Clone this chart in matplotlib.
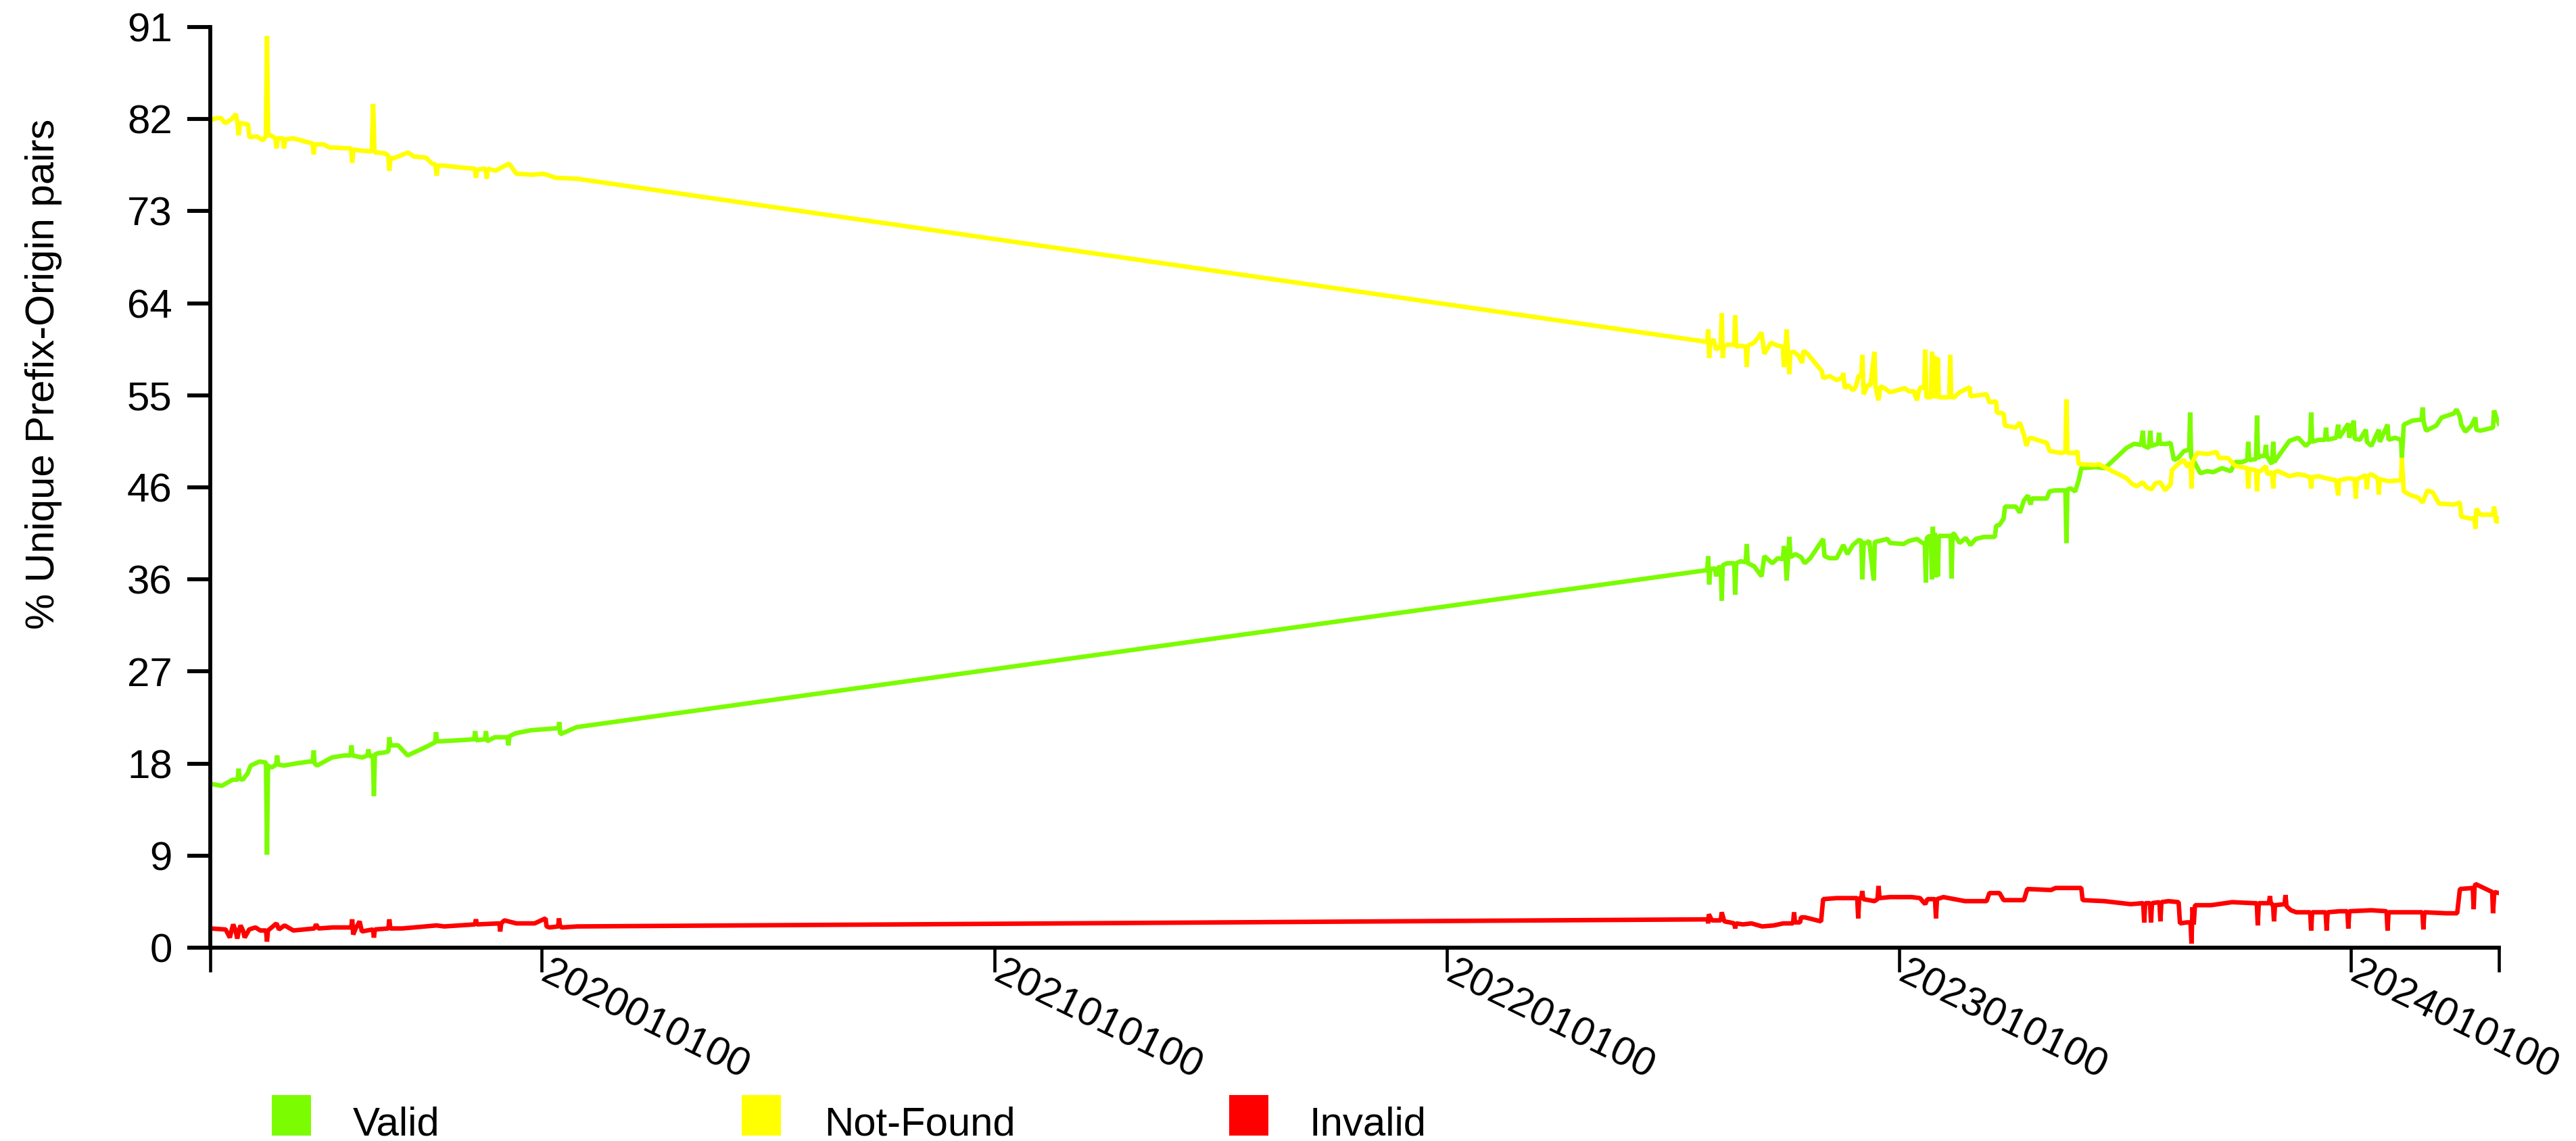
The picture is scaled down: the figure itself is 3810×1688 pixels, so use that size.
import numpy as np
import matplotlib.pyplot as plt
import matplotlib.dates as mdates
from matplotlib.patches import Rectangle
from matplotlib.transforms import ScaledTranslation

plt.rcParams['font.family'] = ['Liberation Sans', 'DejaVu Sans']

# x values are days since 2020-01-01, y values are % of unique prefix-origin pairs
EPOCH = np.datetime64('2020-01-01T00:00')
Y_MAX = 91

valid = [
    (-267.4, 16.2), (-258.1, 16.0), (-249.4, 16.6), (-245.3, 16.6), (-244.5, 17.7), (-243.7, 16.7),
    (-241.2, 16.6), (-237.4, 17.2), (-234.7, 18.0), (-227.6, 18.4), (-222.4, 18.3), (-221.6, 9.2),
    (-220.8, 18.0), (-217.8, 17.8), (-214.2, 18.1), (-213.4, 19.0), (-212.6, 18.1), (-207.9, 18.0),
    (-198.7, 18.2), (-187.2, 18.4), (-184.7, 18.4), (-183.9, 19.5), (-183.1, 18.2), (-181.2, 18.0),
    (-169.2, 18.8), (-159.4, 19.0), (-154.2, 19.0), (-153.4, 20.0), (-152.6, 19.0), (-144.6, 18.8),
    (-140.5, 19.0), (-139.7, 19.6), (-138.9, 18.9), (-136.1, 19.0), (-135.3, 15.0), (-134.5, 19.1),
    (-132.6, 19.2), (-126.6, 19.3), (-123.6, 19.4), (-122.8, 20.8), (-122.0, 20.0), (-115.7, 20.0),
    (-108.1, 19.0), (-93.9, 19.8), (-85.9, 20.3), (-85.1, 21.3), (-84.3, 20.4), (-81.3, 20.4),
    (-66.6, 20.5), (-54.3, 20.6), (-53.5, 21.4), (-52.7, 20.5), (-45.6, 20.6), (-44.8, 21.4),
    (-44.0, 20.4), (-37.7, 20.8), (-27.5, 20.8), (-26.7, 20.0), (-25.9, 20.9), (-20.7, 21.2),
    (-8.2, 21.5), (2.7, 21.6), (13.6, 21.7), (14.4, 22.3), (15.2, 21.1), (28.4, 21.8),
    (939.8, 37.3), (941.2, 37.3), (942.0, 38.7), (942.8, 35.9), (943.6, 37.4), (947.4, 37.5),
    (948.5, 36.7), (950.0, 37.6), (952.1, 37.6), (952.9, 34.3), (953.7, 37.8), (957.3, 38.0),
    (963.0, 38.0), (963.8, 34.9), (964.6, 38.0), (968.2, 38.2), (972.3, 38.1), (973.1, 39.9),
    (973.9, 38.0), (979.1, 37.7), (985.1, 36.7), (987.3, 38.7), (993.8, 38.0), (998.2, 38.5),
    (1002.3, 38.4), (1003.1, 39.7), (1004.5, 38.3), (1005.3, 36.3), (1006.5, 38.4), (1007.5, 40.6),
    (1008.5, 38.6), (1012.4, 38.9), (1017.0, 38.6), (1020.0, 38.0), (1024.4, 38.5), (1034.8, 40.4),
    (1035.9, 38.7), (1040.0, 38.5), (1045.7, 38.5), (1051.1, 39.8), (1054.4, 38.9), (1058.8, 39.8),
    (1063.7, 40.3), (1065.6, 40.2), (1066.4, 36.4), (1067.5, 40.0), (1069.7, 40.0), (1072.0, 40.2),
    (1075.7, 36.3), (1076.5, 40.1), (1080.1, 40.2), (1086.6, 40.4), (1088.8, 40.0), (1099.7, 39.9),
    (1104.0, 40.2), (1110.6, 40.4), (1115.0, 40.0), (1116.9, 40.0), (1117.7, 36.1), (1118.5, 40.5),
    (1120.5, 40.7), (1121.8, 40.6), (1122.6, 36.4), (1123.4, 41.6), (1124.2, 36.8), (1125.0, 41.0),
    (1125.8, 36.6), (1126.6, 40.8), (1127.4, 36.7), (1128.2, 40.7), (1131.9, 40.7), (1137.7, 40.7),
    (1138.5, 36.5), (1139.3, 40.9), (1140.6, 40.9), (1145.0, 40.0), (1150.0, 40.5), (1153.7, 39.8),
    (1158.0, 40.4), (1164.7, 40.6), (1173.4, 40.6), (1174.5, 41.7), (1177.2, 41.8), (1180.5, 42.4),
    (1181.6, 43.6), (1190.3, 43.6), (1193.6, 43.0), (1196.9, 44.2), (1200.1, 44.7), (1202.3, 43.8),
    (1203.4, 44.4), (1215.4, 44.4), (1217.6, 45.1), (1222.0, 45.2), (1228.0, 45.2), (1230.4, 45.2),
    (1231.2, 40.0), (1232.0, 45.3), (1234.5, 45.4), (1238.3, 45.1), (1241.1, 46.2), (1243.2, 47.4),
    (1254.7, 47.5), (1262.3, 47.4), (1279.8, 49.4), (1285.8, 49.8), (1291.5, 49.7), (1292.9, 51.1),
    (1293.7, 49.6), (1297.8, 49.4), (1298.9, 51.1), (1299.7, 49.6), (1305.2, 49.8), (1306.0, 50.9),
    (1306.8, 49.8), (1312.0, 49.8), (1315.3, 49.9), (1318.0, 48.2), (1321.3, 48.4), (1326.2, 49.1),
    (1330.3, 49.2), (1331.1, 52.9), (1331.9, 48.5), (1335.5, 47.8), (1339.3, 46.9), (1345.0, 47.1),
    (1349.7, 47.0), (1356.8, 47.4), (1363.9, 47.1), (1367.7, 48.0), (1373.0, 48.0), (1377.2, 48.2),
    (1378.0, 50.0), (1378.8, 48.2), (1384.3, 48.3), (1385.1, 52.6), (1385.9, 48.4), (1387.9, 48.6),
    (1391.4, 48.6), (1392.2, 49.7), (1393.0, 48.6), (1397.1, 47.8), (1398.2, 50.0), (1399.0, 48.0),
    (1404.2, 48.9), (1411.3, 50.1), (1418.4, 50.4), (1424.4, 49.6), (1428.0, 50.0), (1428.8, 52.9),
    (1429.6, 50.0), (1434.8, 50.2), (1440.0, 50.2), (1440.8, 51.4), (1441.6, 50.2), (1449.0, 50.4),
    (1450.6, 51.7), (1451.4, 50.4), (1458.8, 51.8), (1459.6, 50.4), (1463.2, 52.1), (1464.0, 50.3),
    (1468.1, 50.2), (1473.0, 51.2), (1473.8, 50.0), (1477.4, 49.6), (1483.4, 51.2), (1484.2, 50.0),
    (1490.5, 51.7), (1491.3, 50.2), (1496.5, 50.4), (1501.4, 50.2), (1502.0, 48.4), (1503.6, 51.7),
    (1510.7, 52.1), (1518.0, 52.2), (1518.8, 53.4), (1519.6, 52.0), (1521.6, 51.1), (1529.8, 51.6),
    (1534.1, 52.4), (1544.0, 52.8), (1546.2, 53.2), (1548.9, 52.5), (1550.0, 51.7), (1553.3, 51.0),
    (1558.2, 51.6), (1561.4, 52.4), (1562.2, 51.2), (1565.3, 51.1), (1575.6, 51.4), (1576.5, 53.1),
    (1578.3, 52.4), (1580.4, 51.8),
]

not_found = [
    (-267.4, 81.8), (-262.0, 82.0), (-258.7, 82.0), (-255.4, 81.5), (-250.0, 81.9), (-246.7, 82.4),
    (-245.5, 81.6), (-244.5, 80.3), (-243.5, 81.5), (-238.0, 81.4), (-236.9, 81.4), (-235.8, 80.1),
    (-230.0, 80.2), (-224.9, 79.8), (-222.5, 80.2), (-221.6, 90.1), (-220.7, 80.3), (-218.8, 80.3),
    (-214.8, 80.0), (-213.9, 79.0), (-213.0, 80.0), (-208.8, 80.0), (-207.9, 79.0), (-207.0, 79.9),
    (-200.3, 80.0), (-188.3, 79.6), (-184.8, 79.5), (-183.9, 78.4), (-183.0, 79.4), (-175.7, 79.4),
    (-171.4, 79.1), (-153.7, 79.0), (-152.8, 77.6), (-151.9, 78.9), (-146.8, 78.8), (-137.0, 78.7),
    (-135.9, 83.4), (-134.8, 78.6), (-132.1, 78.6), (-126.1, 78.5), (-123.7, 78.3), (-122.8, 76.8),
    (-121.9, 78.1), (-120.1, 78.0), (-107.5, 78.6), (-103.1, 78.2), (-93.3, 78.1), (-88.4, 77.5),
    (-85.5, 77.4), (-84.6, 76.3), (-83.7, 77.3), (-78.6, 77.3), (-63.9, 77.1), (-53.8, 77.0),
    (-52.9, 76.1), (-52.0, 76.9), (-45.1, 77.0), (-44.2, 76.0), (-43.3, 77.0), (-37.1, 76.8),
    (-26.2, 77.5), (-20.2, 76.5), (-7.6, 76.4), (1.6, 76.5), (11.5, 76.1), (28.9, 76.0),
    (939.8, 59.9), (941.2, 59.9), (942.0, 61.1), (942.8, 58.3), (943.6, 59.8), (946.4, 60.1),
    (948.5, 59.1), (952.1, 59.5), (952.9, 62.7), (953.7, 58.3), (954.5, 59.4), (957.3, 59.6),
    (963.0, 59.6), (963.8, 62.5), (964.6, 59.4), (968.2, 59.5), (972.3, 59.4), (973.1, 57.4),
    (973.9, 59.5), (979.1, 59.8), (985.1, 60.8), (987.3, 58.7), (992.7, 59.8), (998.2, 59.5),
    (1002.3, 59.4), (1003.1, 57.4), (1004.5, 59.5), (1005.3, 61.1), (1006.3, 59.2), (1007.5, 56.7),
    (1008.3, 58.8), (1011.3, 58.9), (1015.0, 58.5), (1017.8, 57.8), (1019.0, 59.0), (1022.2, 58.7),
    (1033.7, 57.0), (1034.8, 56.3), (1040.0, 56.5), (1045.7, 56.1), (1050.0, 56.3), (1051.1, 56.8),
    (1052.2, 55.3), (1055.0, 55.6), (1058.8, 55.1), (1061.0, 55.4), (1063.7, 56.6), (1065.6, 56.5),
    (1066.4, 58.6), (1067.5, 54.7), (1070.8, 55.6), (1073.0, 55.6), (1076.2, 58.9), (1077.0, 55.5),
    (1079.5, 54.1), (1081.0, 55.5), (1084.4, 55.3), (1088.8, 54.9), (1100.8, 55.3), (1104.0, 55.0),
    (1108.0, 55.0), (1110.6, 54.1), (1112.0, 55.0), (1113.4, 55.4), (1116.4, 55.3), (1117.2, 59.1),
    (1118.2, 54.4), (1119.4, 54.4), (1121.8, 54.4), (1122.6, 58.9), (1123.4, 54.3), (1124.2, 58.5),
    (1125.0, 54.4), (1125.8, 58.4), (1126.6, 54.3), (1127.4, 58.3), (1128.2, 54.4), (1131.9, 54.4),
    (1136.6, 54.4), (1137.4, 58.6), (1138.2, 54.4), (1140.6, 54.4), (1145.0, 54.9), (1153.2, 55.4),
    (1153.7, 54.5), (1160.0, 54.6), (1166.8, 54.7), (1169.0, 53.9), (1174.5, 54.0), (1175.0, 52.9),
    (1180.5, 52.8), (1181.6, 51.6), (1186.0, 51.5), (1190.3, 51.4), (1193.6, 51.9), (1196.9, 50.7),
    (1199.0, 49.6), (1200.5, 50.2), (1202.3, 50.4), (1210.0, 50.1), (1215.4, 49.9), (1217.6, 49.1),
    (1222.0, 49.0), (1226.9, 48.9), (1230.4, 49.0), (1231.2, 54.2), (1232.0, 48.9), (1238.3, 48.9),
    (1240.0, 49.1), (1241.1, 47.8), (1254.7, 47.7), (1257.4, 47.8), (1263.4, 47.4), (1279.8, 46.4),
    (1283.6, 45.9), (1288.0, 45.6), (1292.9, 46.0), (1296.0, 45.5), (1300.0, 45.3), (1303.0, 45.9),
    (1307.1, 46.0), (1310.9, 45.2), (1315.3, 45.8), (1316.4, 47.2), (1321.3, 47.8), (1326.2, 48.2),
    (1329.0, 47.5), (1331.5, 48.0), (1332.2, 45.4), (1333.0, 48.0), (1336.6, 48.9), (1345.3, 48.8),
    (1352.4, 49.0), (1354.6, 48.4), (1361.7, 48.4), (1367.7, 47.6), (1373.0, 47.5), (1377.2, 47.4),
    (1378.0, 45.4), (1378.8, 47.3), (1384.3, 47.2), (1385.1, 45.1), (1385.9, 47.1), (1387.9, 47.1),
    (1392.2, 47.6), (1393.5, 46.8), (1397.1, 47.0), (1398.2, 45.4), (1399.0, 47.0), (1402.1, 47.1),
    (1411.3, 46.6), (1418.0, 46.8), (1423.4, 46.7), (1428.0, 46.5), (1428.8, 45.4), (1429.6, 46.5),
    (1434.8, 46.6), (1440.8, 46.4), (1449.0, 46.2), (1450.6, 44.7), (1451.4, 46.2), (1458.8, 46.4),
    (1464.0, 46.3), (1464.8, 44.4), (1465.6, 46.3), (1473.0, 46.7), (1473.8, 45.3), (1474.6, 46.6),
    (1477.4, 46.8), (1482.6, 46.4), (1483.4, 44.8), (1484.2, 46.3), (1491.6, 46.1), (1500.3, 46.2),
    (1501.4, 46.2), (1502.0, 48.4), (1503.6, 45.1), (1509.6, 44.7), (1515.0, 44.5), (1518.8, 44.0),
    (1522.7, 45.2), (1527.0, 45.0), (1532.0, 43.9), (1544.0, 43.8), (1548.9, 44.0), (1550.0, 42.6),
    (1558.2, 42.4), (1560.6, 42.5), (1561.4, 41.4), (1562.2, 43.4), (1565.3, 42.8), (1575.6, 42.8),
    (1576.5, 43.6), (1578.3, 42.0), (1580.4, 42.4),
]

invalid = [
    (-267.4, 1.9), (-255.0, 1.8), (-251.6, 1.0), (-250.0, 1.8), (-248.9, 2.3), (-247.0, 1.7),
    (-245.6, 0.9), (-244.0, 1.8), (-242.9, 2.2), (-241.0, 1.7), (-239.6, 1.0), (-236.0, 1.8),
    (-230.9, 2.0), (-227.0, 1.7), (-222.4, 1.7), (-221.6, 0.6), (-220.8, 1.7), (-213.9, 2.4),
    (-212.0, 1.8), (-207.4, 2.2), (-200.3, 1.7), (-183.4, 1.9), (-182.0, 2.3), (-180.0, 1.9),
    (-168.6, 2.0), (-153.6, 2.0), (-152.8, 2.8), (-152.0, 1.3), (-150.0, 1.9), (-146.8, 2.6),
    (-145.0, 1.6), (-140.8, 1.7), (-136.0, 1.8), (-135.3, 1.0), (-134.5, 1.8), (-123.6, 1.9),
    (-122.8, 2.8), (-122.0, 1.9), (-112.4, 1.9), (-103.1, 2.0), (-84.6, 2.2), (-78.6, 2.1),
    (-53.7, 2.3), (-52.9, 2.8), (-52.1, 2.3), (-34.0, 2.4), (-33.3, 1.6), (-32.5, 2.4),
    (-30.0, 2.7), (-20.2, 2.4), (-5.5, 2.4), (3.3, 2.9), (4.1, 2.1), (6.5, 2.0),
    (13.4, 2.1), (14.2, 2.9), (15.0, 2.1), (16.4, 2.0), (28.9, 2.1),
    (939.8, 2.8), (941.5, 2.8), (942.0, 2.4), (942.5, 3.3), (945.0, 2.7), (952.1, 2.7),
    (952.9, 3.5), (955.0, 2.6), (959.4, 2.5), (963.0, 2.4), (963.8, 1.9), (964.6, 2.4),
    (970.0, 2.3), (976.9, 2.4), (985.6, 2.1), (995.0, 2.2), (1002.6, 2.4), (1010.5, 2.4),
    (1011.3, 3.5), (1012.1, 2.5), (1016.2, 2.5), (1016.9, 3.0), (1020.0, 3.0), (1033.1, 2.6),
    (1034.8, 4.8), (1045.7, 4.9), (1062.3, 4.9), (1063.1, 2.9), (1063.9, 4.9), (1065.6, 4.9),
    (1066.4, 5.6), (1067.2, 4.8), (1076.2, 4.6), (1078.7, 4.8), (1079.5, 6.1), (1080.3, 4.9),
    (1088.8, 5.0), (1106.3, 5.0), (1113.0, 4.9), (1117.2, 4.3), (1119.0, 4.8), (1125.1, 4.8),
    (1125.9, 2.9), (1126.7, 4.8), (1131.9, 5.0), (1149.4, 4.6), (1166.8, 4.6), (1169.0, 5.4),
    (1177.2, 5.4), (1180.5, 4.7), (1196.9, 4.7), (1199.6, 5.8), (1218.7, 5.7), (1222.5, 5.9),
    (1243.2, 5.9), (1244.3, 4.7), (1261.8, 4.6), (1283.1, 4.3), (1293.2, 4.4), (1294.0, 2.5),
    (1294.8, 4.4), (1298.7, 4.4), (1299.5, 2.5), (1300.3, 4.4), (1306.3, 4.5), (1307.1, 2.6),
    (1307.9, 4.5), (1313.6, 4.6), (1321.8, 4.5), (1322.9, 2.4), (1328.4, 2.5), (1331.4, 2.5),
    (1332.2, 0.4), (1333.0, 4.0), (1334.0, 2.3), (1335.0, 4.2), (1337.1, 4.2), (1348.0, 4.2),
    (1365.0, 4.5), (1382.4, 4.4), (1384.9, 4.4), (1385.7, 2.2), (1386.5, 4.4), (1394.7, 4.4),
    (1395.5, 5.1), (1396.3, 4.3), (1398.0, 4.3), (1398.8, 2.6), (1399.6, 4.2), (1407.3, 4.3),
    (1408.1, 5.2), (1408.9, 4.1), (1412.4, 3.7), (1416.8, 3.5), (1428.0, 3.5), (1428.8, 1.7),
    (1429.6, 3.5), (1440.5, 3.5), (1441.3, 1.7), (1442.1, 3.5), (1451.7, 3.6), (1458.0, 3.6),
    (1458.8, 1.9), (1459.6, 3.6), (1477.4, 3.7), (1489.7, 3.6), (1490.5, 1.7), (1491.3, 3.5),
    (1499.2, 3.5), (1518.6, 3.5), (1519.4, 1.8), (1520.2, 3.5), (1537.9, 3.4), (1546.7, 3.4),
    (1548.9, 5.8), (1559.3, 5.9), (1560.0, 3.8), (1560.7, 5.9), (1561.4, 6.3), (1575.0, 5.5),
    (1575.6, 3.4), (1576.7, 5.5), (1580.4, 5.4),
]

series = [('Valid', valid, '#7CFC00'),
          ('Not-Found', not_found, '#FFFF00'),
          ('Invalid', invalid, '#FF0000')]


def to_dates(days):
    minutes = np.round(np.asarray(days) * 1440).astype('timedelta64[m]')
    return EPOCH + minutes


W, H = 3810, 1688
fig = plt.figure(figsize=(W / 300, H / 300), dpi=300)
ax = fig.add_axes([311 / W, 286 / H, (3696 - 311) / W, (1402 - 40) / H])

all_days = []
for name, pts, color in series:
    d, v = zip(*pts)
    all_days += d
    ax.plot(to_dates(d), v, color=color, lw=1.6, solid_joinstyle='bevel')

x0, x1 = to_dates([min(all_days), max(all_days)])
ax.set_xlim(x0, x1)
ax.set_ylim(0, Y_MAX)

# y ticks: 10 equal steps, labels rounded
yt = np.linspace(0, Y_MAX, 11)
ax.set_yticks(yt, [str(round(v)) for v in yt])

ax.xaxis.set_major_locator(mdates.YearLocator())
ax.xaxis.set_major_formatter(mdates.DateFormatter('%Y%m%d%H'))
ax.set_xticks([x0, x1], minor=True)

for s in ['top', 'right']:
    ax.spines[s].set_visible(False)
for s in ['left', 'bottom']:
    ax.spines[s].set_linewidth(1.4)

ax.tick_params(axis='y', length=8.2, width=1.4, pad=5.3, labelsize=14.4)
ax.tick_params(axis='x', which='both', length=8.6, width=1.1, pad=-6.2, labelsize=14.4)

off = ScaledTranslation(15 / 300, 0, fig.dpi_scale_trans)
for lab in ax.get_xticklabels():
    lab.set_rotation(-26)
    lab.set_ha('left')
    lab.set_va('top')
    lab.set_rotation_mode('anchor')
    lab.set_transform(lab.get_transform() + off)

fig.text(65 / W, 1 - 553 / H, '% Unique Prefix-Origin pairs', rotation=90,
         ha='center', va='center', fontsize=14.4)

# legend row along the bottom
for (name, pts, color), sx, tx in zip(series, [402, 1097, 1818], [522, 1219, 1937]):
    fig.add_artist(Rectangle((sx / W, 8 / H), 58 / W, 60 / H,
                             transform=fig.transFigure, color=color, lw=0))
    fig.text(tx / W, 8 / H, name, ha='left', va='baseline', fontsize=14.4)

plt.savefig('out.png', dpi=300)
